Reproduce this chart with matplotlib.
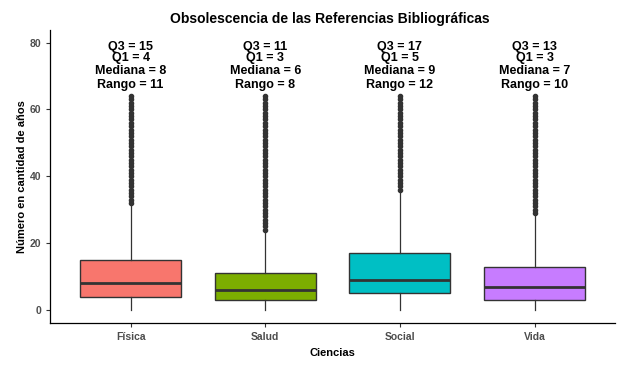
import matplotlib
matplotlib.use("Agg")
import matplotlib.pyplot as plt
import numpy as np

plt.rcParams['font.family'] = ['Liberation Sans', 'DejaVu Sans']

categorias = ["Física", "Salud", "Social", "Vida"]
q1 = [4, 3, 5, 3]
mediana = [8, 6, 9, 7]
q3 = [15, 11, 17, 13]
whis_lo = [0, 0, 0, 0]
whis_hi = [31, 23, 35, 28]
outlier_lo = [32, 24, 36, 29]
outlier_hi = [64, 64, 64, 64]
rango = [11, 8, 12, 10]
colores = ["#F8766D", "#7CAE00", "#00BFC4", "#C77CFF"]

stats = []
for i, cat in enumerate(categorias):
    stats.append({
        "label": cat,
        "q1": q1[i], "med": mediana[i], "q3": q3[i],
        "whislo": whis_lo[i], "whishi": whis_hi[i],
        "fliers": np.arange(outlier_lo[i], outlier_hi[i] + 1),
    })

fig = plt.figure(figsize=(6.24, 3.65), dpi=100)
ax = fig.add_axes([0.080, 0.115, 0.906, 0.803])

pos = np.arange(1, len(categorias) + 1)
bp = ax.bxp(stats, positions=pos, widths=0.75, patch_artist=True,
            showcaps=False,
            boxprops=dict(edgecolor="#333333", linewidth=1.0),
            medianprops=dict(color="#333333", linewidth=2.0),
            whiskerprops=dict(color="#333333", linewidth=0.9),
            flierprops=dict(marker="o", markersize=3.0, markerfacecolor="#333333",
                            markeredgecolor="#333333", linestyle="none"))
for patch, c in zip(bp["boxes"], colores):
    patch.set_facecolor(c)

for i, x in enumerate(pos):
    kw = dict(ha="center", va="center", fontsize=9, fontweight="bold", color="black")
    ax.text(x, 78.6, f"Q3 = {q3[i]}", **kw)
    ax.text(x, 75.4, f"Q1 = {q1[i]}", **kw)
    ax.text(x, 71.6, f"Mediana = {mediana[i]}", **kw)
    ax.text(x, 67.4, f"Rango = {rango[i]}", **kw)

ax.set_xlim(0.4, 4.6)
ax.set_ylim(-3.9, 83.8)
ax.set_yticks([0, 20, 40, 60, 80])
ax.set_xticks(pos)
ax.set_xticklabels(categorias)
ax.tick_params(axis="both", labelsize=7.5, colors="#4d4d4d", length=3, width=0.8)
for lab in ax.get_xticklabels() + ax.get_yticklabels():
    lab.set_fontweight("bold")
ax.tick_params(axis="both", color="#333333")

for s in ["top", "right"]:
    ax.spines[s].set_visible(False)
for s in ["left", "bottom"]:
    ax.spines[s].set_color("black")
    ax.spines[s].set_linewidth(0.9)

ax.set_xlabel("Ciencias", fontsize=8, fontweight="bold", labelpad=4)
ax.set_ylabel("Número en cantidad de años", fontsize=8, fontweight="bold")
ax.yaxis.set_label_coords(-0.04, 0.5)
fig.text(0.529, 0.948, "Obsolescencia de las Referencias Bibliográficas",
         ha="center", va="center", fontsize=10, fontweight="bold")

fig.savefig("out.png", dpi=100)
